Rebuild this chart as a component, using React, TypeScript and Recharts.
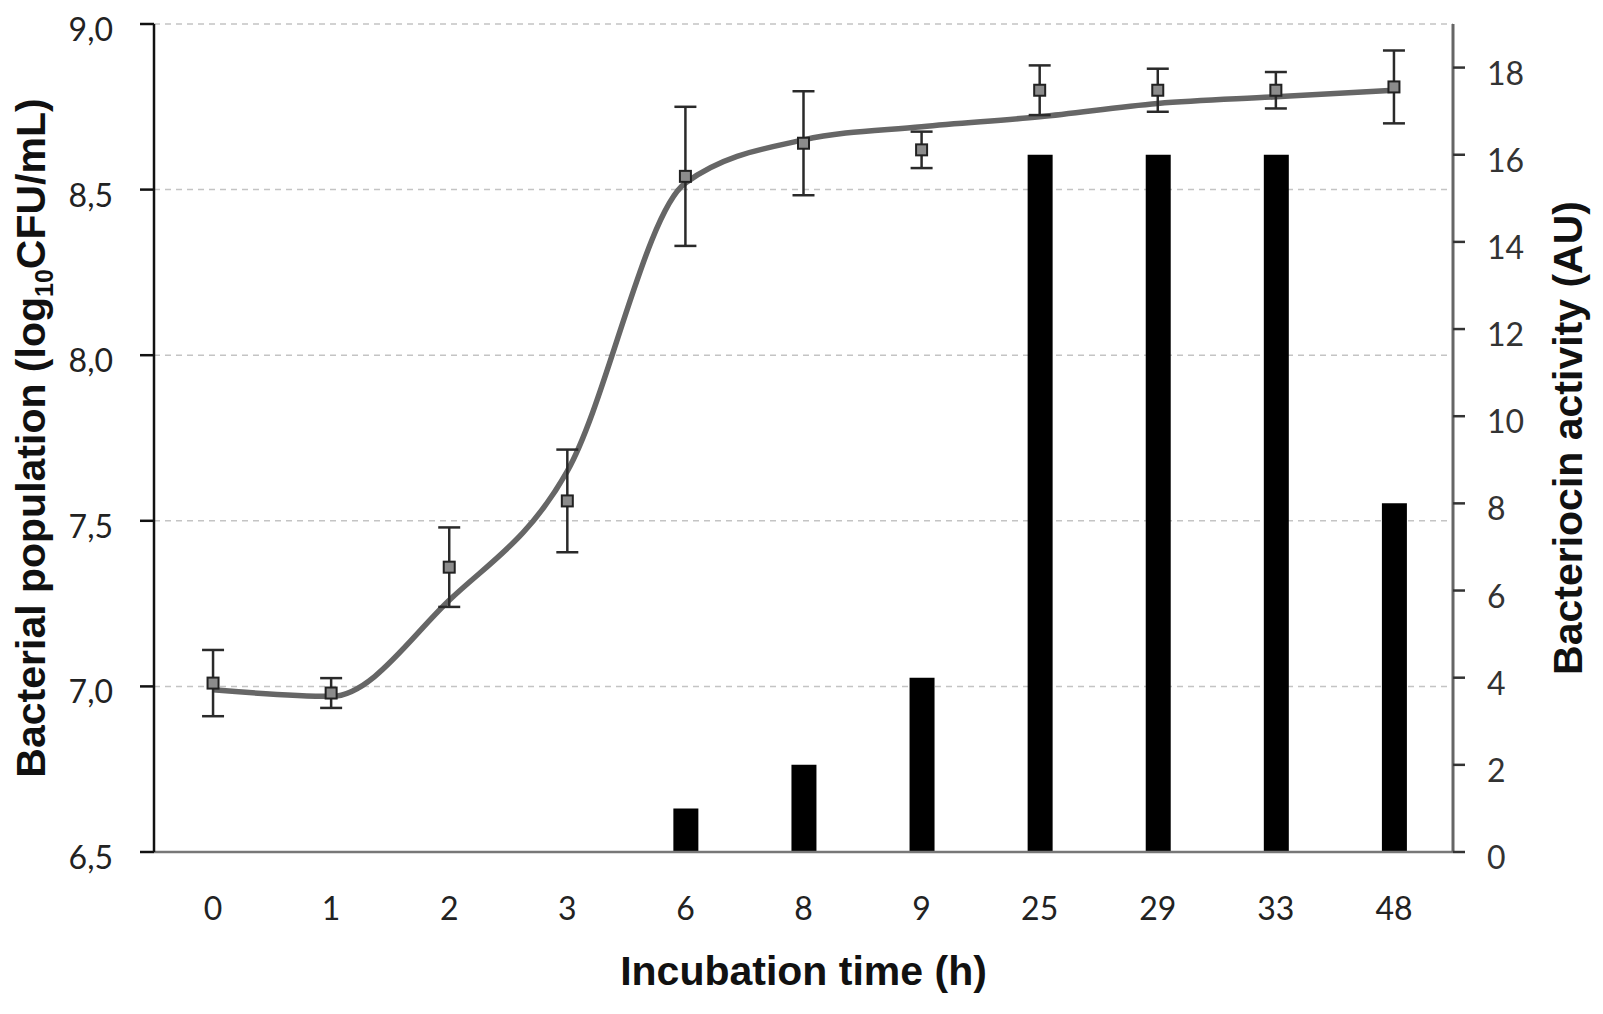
import {
  Bar,
  CartesianGrid,
  ComposedChart,
  ErrorBar,
  Label,
  Line,
  XAxis,
  YAxis,
} from 'recharts';

// incubation times (h), shown as evenly spaced categories
const hours = ['0', '1', '2', '3', '6', '8', '9', '25', '29', '33', '48'];
// log10 CFU/mL, measured means and their SD
const population = [7.01, 6.98, 7.36, 7.56, 8.54, 8.64, 8.62, 8.8, 8.8, 8.8, 8.81];
const populationSd = [0.1, 0.045, 0.12, 0.155, 0.21, 0.157, 0.055, 0.075, 0.065, 0.055, 0.11];
// fitted growth curve drawn through the points
const growthFit = [6.99, 6.97, 7.26, 7.65, 8.52, 8.65, 8.69, 8.72, 8.76, 8.78, 8.8];
// bacteriocin activity (AU)
const activity = [0, 0, 0, 0, 1, 2, 4, 16, 16, 16, 8];

const leftTicks = [6.5, 7, 7.5, 8, 8.5, 9];
const rightTicks = [0, 2, 4, 6, 8, 10, 12, 14, 16, 18];

const data = hours.map((h, i) => ({
  h,
  pop: population[i],
  sd: populationSd[i],
  fit: growthFit[i],
  au: activity[i],
}));

const TICK_FONT = 'Lato, "Open Sans", sans-serif';
const TITLE_FONT = '"Liberation Sans", Arial, sans-serif';

const comma = (v: number) => v.toFixed(1).replace('.', ',');

function LeftTick({ x, y, payload }: any) {
  return (
    <text x={x} y={y} dy={17} textAnchor="end" fontFamily={TICK_FONT} fontSize={32} fill="#222">
      {comma(payload.value)}
    </text>
  );
}

function RightTick({ x, y, payload }: any) {
  return (
    <text x={x} y={y} dy={17} textAnchor="start" fontFamily={TICK_FONT} fontSize={32} fill="#333">
      {payload.value}
    </text>
  );
}

function BottomTick({ x, y, payload }: any) {
  return (
    <text x={x} y={y} dy={68} textAnchor="middle" fontFamily={TICK_FONT} fontSize={32} fill="#222">
      {payload.value}
    </text>
  );
}

function SquareDot({ cx, cy, index }: any) {
  if (cx == null || cy == null) return null;
  return (
    <rect
      key={`sq-${index}`}
      x={cx - 5.5}
      y={cy - 5.5}
      width={11}
      height={11}
      fill="#8c8c8c"
      stroke="#222"
      strokeWidth={2}
    />
  );
}

function LeftTitle({ viewBox }: any) {
  const cx = 45;
  const cy = viewBox.y + viewBox.height / 2;
  return (
    <text
      x={cx}
      y={cy}
      transform={`rotate(-90 ${cx} ${cy})`}
      textAnchor="middle"
      fontFamily={TITLE_FONT}
      fontWeight="bold"
      fontSize={41}
      fill="#111"
    >
      Bacterial population (log
      <tspan fontSize={25} dy={8}>10</tspan>
      <tspan dy={-8}>CFU/mL)</tspan>
    </text>
  );
}

function RightTitle({ viewBox }: any) {
  const cx = 1582;
  const cy = viewBox.y + viewBox.height / 2;
  return (
    <text
      x={cx}
      y={cy}
      transform={`rotate(-90 ${cx} ${cy})`}
      textAnchor="middle"
      fontFamily={TITLE_FONT}
      fontWeight="bold"
      fontSize={41}
      fill="#111"
    >
      Bacteriocin activity (AU)
    </text>
  );
}

function BottomTitle({ viewBox }: any) {
  const cx = viewBox.x + viewBox.width / 2;
  return (
    <text x={cx} y={985} textAnchor="middle" fontFamily={TITLE_FONT} fontWeight="bold" fontSize={41} fill="#111">
      Incubation time (h)
    </text>
  );
}

export default function App() {
  return (
    <div style={{ position: 'absolute', left: 0, top: 0, width: 1603, height: 1014, background: '#fff' }}>
      <ComposedChart
        width={1603}
        height={1014}
        data={data}
        margin={{ top: 24, right: 0, bottom: 0, left: 0 }}
      >
        <CartesianGrid
          yAxisId="left"
          vertical={false}
          stroke="#c4c4c4"
          strokeWidth={1.5}
          strokeDasharray="6 5"
        />
        <XAxis
          dataKey="h"
          height={162}
          tickLine={false}
          tickSize={0}
          tickMargin={0}
          axisLine={{ stroke: '#777', strokeWidth: 2.5 }}
          tick={<BottomTick />}
          interval={0}
        >
          <Label content={<BottomTitle />} />
        </XAxis>
        <YAxis
          yAxisId="left"
          width={154}
          domain={[6.5, 9]}
          ticks={leftTicks}
          interval={0}
          tickSize={14}
          tickMargin={27}
          axisLine={{ stroke: '#111', strokeWidth: 2.5 }}
          tickLine={{ stroke: '#111', strokeWidth: 2.5 }}
          tick={<LeftTick />}
        >
          <Label content={<LeftTitle />} />
        </YAxis>
        <YAxis
          yAxisId="right"
          orientation="right"
          width={150}
          domain={[0, 19]}
          ticks={rightTicks}
          interval={0}
          tickSize={12}
          tickMargin={22}
          axisLine={{ stroke: '#666', strokeWidth: 3 }}
          tickLine={{ stroke: '#333', strokeWidth: 2.5 }}
          tick={<RightTick />}
        >
          <Label content={<RightTitle />} />
        </YAxis>
        <Bar yAxisId="right" dataKey="au" fill="#000" barSize={25} isAnimationActive={false} />
        <Line
          yAxisId="left"
          type="monotone"
          dataKey="fit"
          stroke="#666"
          strokeWidth={5.5}
          dot={false}
          activeDot={false}
          isAnimationActive={false}
        />
        <Line
          yAxisId="left"
          dataKey="pop"
          stroke="none"
          strokeWidth={0}
          dot={<SquareDot />}
          activeDot={false}
          isAnimationActive={false}
        >
          <ErrorBar dataKey="sd" width={11} stroke="#2a2a2a" strokeWidth={2.5} direction="y" />
        </Line>
      </ComposedChart>
    </div>
  );
}
